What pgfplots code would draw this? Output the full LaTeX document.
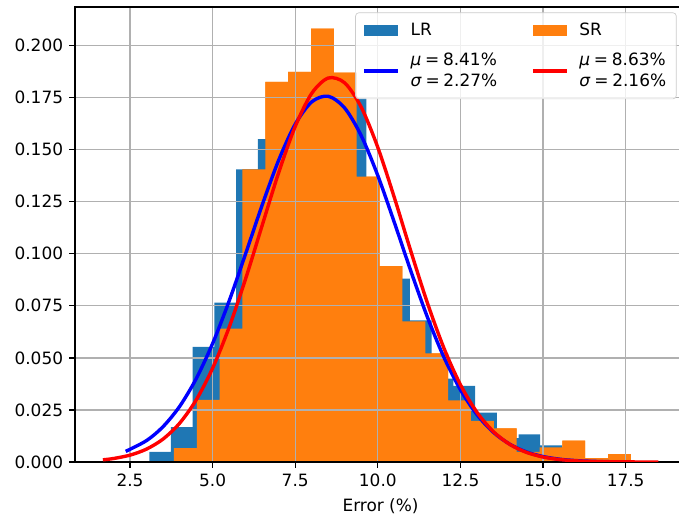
\documentclass[border=0pt]{standalone}
\usepackage{fontspec}
\setmainfont{DejaVu Sans}
\usepackage{pgfplots}
\usepackage{pgfplotstable}
\pgfplotsset{compat=1.18}
\definecolor{c0}{RGB}{31,119,180}
\definecolor{c1}{RGB}{255,127,14}

% histogram bins: left edge, density (last row = right edge)
\pgfplotstableread{
x y
3.084 0.0049
3.741 0.0167
4.399 0.0553
5.056 0.0765
5.713 0.1405
6.371 0.155
7.028 0.167
7.685 0.178
8.342 0.172
9.000 0.175
9.657 0.090
10.314 0.088
10.972 0.068
11.629 0.040
12.286 0.0365
12.944 0.0237
13.601 0.0115
14.258 0.0133
14.915 0.0080
15.573 0.0016
16.230 0.0016
}\lrhist

\pgfplotstableread{
x y
3.831 0.0067
4.522 0.0298
5.214 0.064
5.905 0.1405
6.597 0.1825
7.288 0.1873
7.979 0.2081
8.671 0.187
9.362 0.137
10.054 0.094
10.745 0.0675
11.436 0.0521
12.128 0.0296
12.819 0.0198
13.511 0.0162
14.202 0.0049
14.893 0.0070
15.585 0.0102
16.276 0.0018
16.968 0.0038
17.659 0.0038
}\srhist

\begin{document}
\begin{tikzpicture}
\begin{axis}[
  set layers,
  scale only axis,
  width=360.6pt, height=268.5pt,
  xmin=0.836, xmax=19.33,
  ymin=0, ymax=0.2185,
  xtick={2.5,5,7.5,10,12.5,15,17.5},
  ytick={0,0.025,0.05,0.075,0.1,0.125,0.15,0.175,0.2},
  /pgf/number format/assume math mode=true,
  xticklabel style={/pgf/number format/.cd, fixed, fixed zerofill, precision=1},
  yticklabel style={/pgf/number format/.cd, fixed, fixed zerofill, precision=3},
  tick align=outside, tick pos=left,
  major tick length=3.5pt,
  every tick/.style={black, line width=0.8pt},
  axis line style={line width=0.8pt},
  grid=major,
  grid style={line width=0.8pt, color=black!31},
  xlabel={Error (\%)},
  legend columns=2,
  legend cell align=left,
  legend style={at={(0.9845,0.988)}, anchor=north east,
    draw=black!20, rounded corners=2pt, fill=white, fill opacity=0.8, text opacity=1,
    inner sep=4pt, row sep=5pt, cells={align=left},
    /tikz/every odd column/.append style={column sep=4.5pt},
    /tikz/every even column/.append style={column sep=18pt}},
]
\addplot[ybar interval, fill=c1, draw=none, on layer=axis background, forget plot] table {\srhist};
\addplot[ybar interval, fill=c0, draw=none, on layer=axis background,
  legend image code/.code={\fill[c0, fill opacity=1, sharp corners] (0pt,-3.5pt) rectangle (20pt,3.5pt);}] table {\lrhist};
\addlegendentry{LR}
\addplot[ybar interval, fill=c1, draw=none, on layer=axis background,
  legend image code/.code={\fill[c1, fill opacity=1, sharp corners] (0pt,-3.5pt) rectangle (20pt,3.5pt);}] table {\srhist};
\addlegendentry{SR}
\addplot[blue, line width=2pt, smooth,
  legend image code/.code={\draw[blue, line width=2pt, draw opacity=1, sharp corners] (0pt,0pt) -- (20pt,0pt);}] coordinates {
(2.37,0.00510)(3.0,0.01027)(3.5,0.01695)(4.0,0.02663)(4.5,0.03987)(5.0,0.05687)
(5.5,0.07727)(6.0,0.10003)(6.5,0.12335)(7.0,0.14492)(7.5,0.16218)(8.0,0.17291)
(8.5,0.17561)(9.0,0.16991)(9.5,0.15661)(10.0,0.13752)(10.5,0.11503)(11.0,0.09166)
(11.5,0.06959)(12.0,0.05032)(12.5,0.03467)(13.0,0.02276)(13.5,0.01423)(14.0,0.00847)
(14.5,0.00481)(15.0,0.00260)(15.5,0.00134)(16.0,0.00066)(16.5,0.00031)(17.0,0.00014)(17.5,0.00005)
};
\addlegendentry{\textit{μ}\hspace{0.22em}=\hspace{0.22em}8.41\%\\\textit{σ}\hspace{0.22em}=\hspace{0.22em}2.27\%}
\addplot[red, line width=2pt, smooth,
  legend image code/.code={\draw[red, line width=2pt, draw opacity=1, sharp corners] (0pt,0pt) -- (20pt,0pt);}] coordinates {
(1.68,0.00104)(2.0,0.00166)(2.5,0.00329)(3.0,0.00618)(3.5,0.01100)(4.0,0.01857)
(4.5,0.02969)(5.0,0.04500)(5.5,0.06464)(6.0,0.08801)(6.5,0.11359)(7.0,0.13894)
(7.5,0.16108)(8.0,0.17701)(8.5,0.18437)(9.0,0.18201)(9.5,0.17031)(10.0,0.15104)
(10.5,0.12697)(11.0,0.10117)(11.5,0.07640)(12.0,0.05469)(12.5,0.03710)(13.0,0.02386)
(13.5,0.01454)(14.0,0.00840)(14.5,0.00460)(15.0,0.00239)(15.5,0.00118)(16.0,0.00055)
(16.5,0.00024)(17.0,0.00010)(17.5,0.00004)(18.0,0.00001)(18.49,0.0)
};
\addlegendentry{\textit{μ}\hspace{0.22em}=\hspace{0.22em}8.63\%\\\textit{σ}\hspace{0.22em}=\hspace{0.22em}2.16\%}
\end{axis}
\pgfresetboundingbox
\path (-44.25pt,-31.9pt) rectangle (356.4pt,272.6pt);
\end{tikzpicture}
\end{document}
